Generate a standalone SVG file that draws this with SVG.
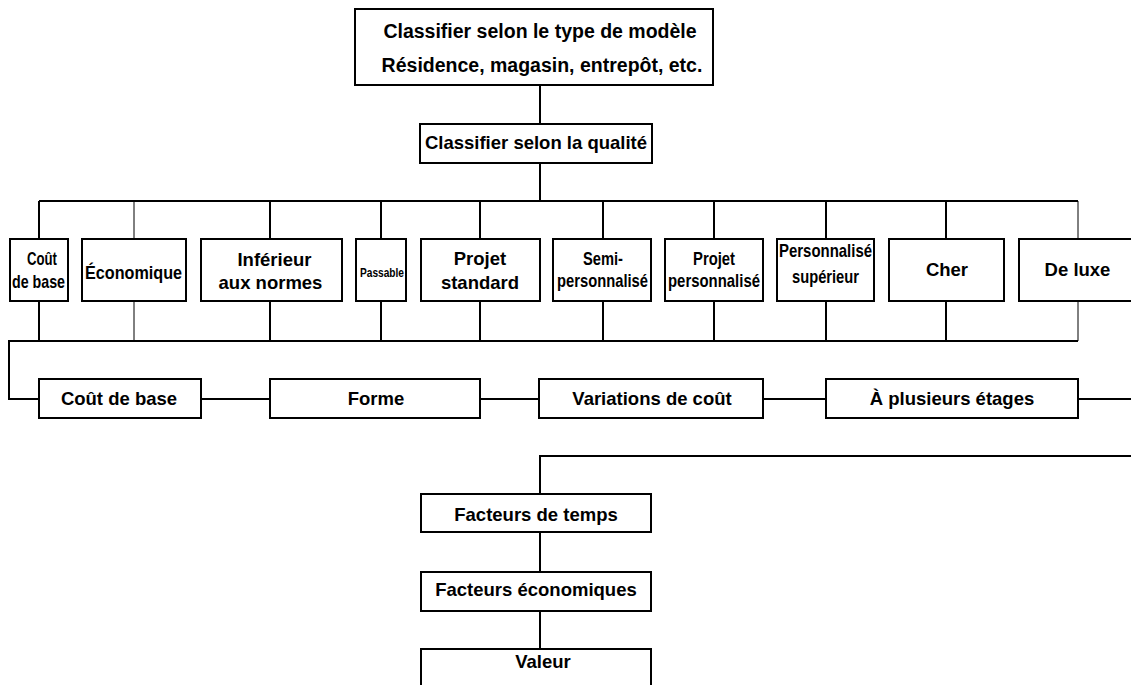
<svg xmlns="http://www.w3.org/2000/svg" width="1131" height="685" viewBox="0 0 1131 685">
<style>
.box{fill:#fff;stroke:#000;stroke-width:2}
.ln{fill:none;stroke:#000;stroke-width:2}
.thin{fill:none;stroke:#000;stroke-width:1}
text{font-family:"Liberation Sans",Arial,sans-serif;font-weight:bold;font-size:18.5px;fill:#000;text-anchor:middle}
.big{font-size:19.5px}
.cn{font-size:18.5px}
.sm{font-size:13px}
</style>
<rect width="1131" height="685" fill="#fff"/>
<g id="connectors">
<path class="ln" d="M540 85V124M540 163V201M39 201H1078"/>
<path class="ln" d="M39 201V239M270 201V239M381 201V239M480 201V239M603 201V239M714 201V239M826 201V239M946 201V239"/>
<path class="thin" d="M134 201V239M1078 201V239M134 301V341M1078 301V341"/>
<path class="ln" d="M39 301V341M270 301V341M381 301V341M480 301V341M603 301V341M714 301V341M826 301V341M946 301V341"/>
<path class="ln" d="M1078 341H9V399H39M201 399H270M480 399H539M763 399H826M1078 399H1131"/>
<path class="ln" d="M1131 456H540V494M540 532V572M540 611V649"/>
</g>
<g id="n-type"><rect class="box" x="355" y="9" width="358" height="76"/><text class="big" x="540" y="38">Classifier selon le type de modèle</text><text class="big" x="542" y="72">Résidence, magasin, entrepôt, etc.</text></g>
<g id="n-qualite"><rect class="box" x="420" y="124" width="232" height="39"/><text x="536" y="149">Classifier selon la qualité</text></g>
<g id="q-cout"><rect class="box" x="10" y="239" width="58" height="62"/><text class="cn" x="42" y="265" textLength="30" lengthAdjust="spacingAndGlyphs">Coût</text><text class="cn" x="38.5" y="288" textLength="53" lengthAdjust="spacingAndGlyphs">de base</text></g>
<g id="q-eco"><rect class="box" x="82" y="239" width="104" height="62"/><text class="cn" x="133.5" y="279" textLength="97" lengthAdjust="spacingAndGlyphs">Économique</text></g>
<g id="q-inf"><rect class="box" x="201" y="239" width="141" height="62"/><text x="274.5" y="266">Inférieur</text><text x="270.5" y="289">aux normes</text></g>
<g id="q-pass"><rect class="box" x="356" y="239" width="50" height="62"/><text class="sm" x="382" y="277" textLength="44" lengthAdjust="spacingAndGlyphs">Passable</text></g>
<g id="q-std"><rect class="box" x="421" y="239" width="119" height="62"/><text x="480" y="265">Projet</text><text x="480" y="289">standard</text></g>
<g id="q-semi"><rect class="box" x="553" y="239" width="98" height="62"/><text class="cn" x="603" y="265" textLength="40" lengthAdjust="spacingAndGlyphs">Semi-</text><text class="cn" x="602.5" y="287" textLength="91" lengthAdjust="spacingAndGlyphs">personnalisé</text></g>
<g id="q-perso"><rect class="box" x="665" y="239" width="98" height="62"/><text class="cn" x="714" y="265" textLength="42" lengthAdjust="spacingAndGlyphs">Projet</text><text class="cn" x="714" y="287" textLength="92" lengthAdjust="spacingAndGlyphs">personnalisé</text></g>
<g id="q-sup"><rect class="box" x="777" y="239" width="97" height="62"/><text class="cn" x="825.5" y="257" textLength="93" lengthAdjust="spacingAndGlyphs">Personnalisé</text><text class="cn" x="825.5" y="283" textLength="67" lengthAdjust="spacingAndGlyphs">supérieur</text></g>
<g id="q-cher"><rect class="box" x="889" y="239" width="115" height="62"/><text x="947" y="276">Cher</text></g>
<g id="q-luxe"><rect class="box" x="1019" y="239" width="114" height="62"/><text x="1077.5" y="276">De luxe</text></g>
<g id="b-cout"><rect class="box" x="39" y="379" width="162" height="39"/><text x="119" y="405">Coût de base</text></g>
<g id="b-forme"><rect class="box" x="270" y="379" width="210" height="39"/><text x="376" y="405">Forme</text></g>
<g id="b-var"><rect class="box" x="539" y="379" width="224" height="39"/><text x="652" y="405">Variations de coût</text></g>
<g id="b-etages"><rect class="box" x="826" y="379" width="252" height="39"/><text x="952" y="405">À plusieurs étages</text></g>
<g id="f-temps"><rect class="box" x="421" y="494" width="230" height="38"/><text x="536" y="521">Facteurs de temps</text></g>
<g id="f-eco"><rect class="box" x="421" y="572" width="230" height="39"/><text x="536" y="596">Facteurs économiques</text></g>
<g id="f-valeur"><rect class="box" x="421" y="649" width="230" height="45"/><text x="543" y="668">Valeur</text></g>
</svg>
